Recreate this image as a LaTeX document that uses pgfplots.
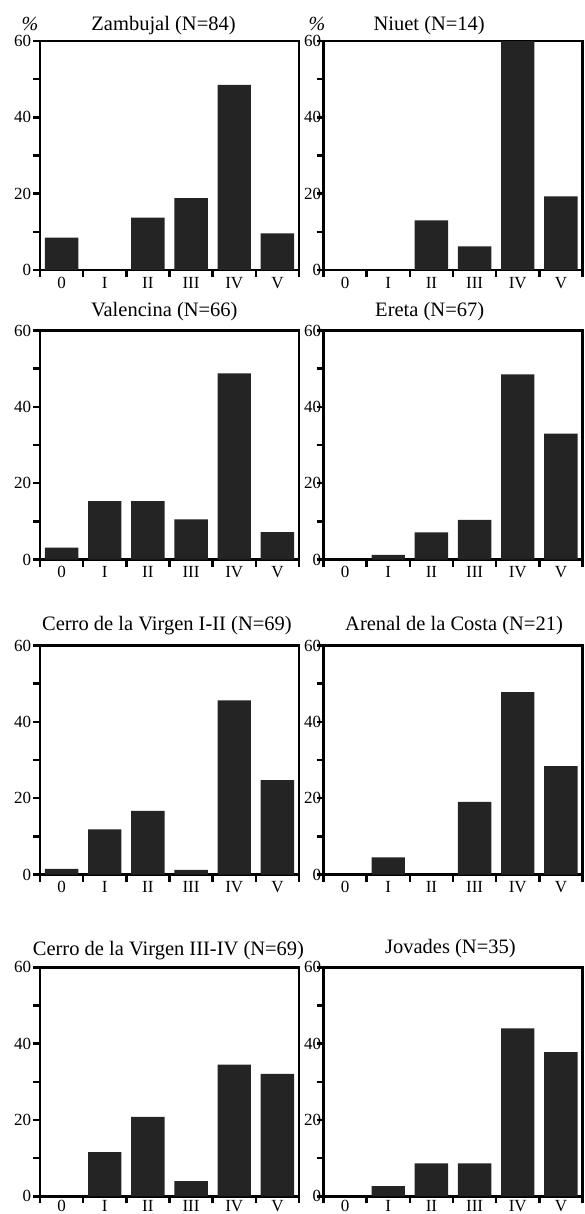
\documentclass[border=0pt]{standalone}
\usepackage{fontspec}
\setmainfont{Liberation Serif}
\usepackage{pgfplots}
\pgfplotsset{compat=1.18}
\definecolor{barc}{RGB}{36,36,36}
\pgfplotsset{
 every axis title shift=0pt,
 panel/.style={
  scale only axis, width=129.5pt, height=114.5pt,
  xmin=-0.5, xmax=5.5, ymin=0, ymax=60,
  ybar, bar width=0.775, bar shift=0pt,
  clip=false,
  axis line style={line width=1.2pt},
  xtick={-0.5,0.5,...,5.5}, xticklabels={},
  extra x ticks={0,1,2,3,4,5},
  extra x tick labels={0,I,II,III,IV,V},
  extra x tick style={major tick length=0pt},
  ytick={0,20,40,60}, minor ytick={10,30,50},
  tick align=outside, tick pos=left,
  major tick length=3.5pt, minor tick length=3.5pt,
  tick style={line width=1.2pt, black},
  ticklabel style={font=\fontsize{8.5}{10}\selectfont},
  yticklabel style={inner xsep=0.7pt},
  /pgf/number format/assume math mode=true,
  title style={font=\fontsize{10.25}{12}\selectfont, anchor=base},
 },
 rpanel/.style={panel, yticklabel style={xshift=3.2pt}},
 bars/.style={fill=barc, draw=none},
}
\begin{document}
\begin{tikzpicture}
\useasboundingbox (0,0) rectangle (292pt,-607pt);
% Row 1
\begin{axis}[panel, at={(20pt,-135pt)}, anchor=south west,
  title={Zambujal (N=84)}, title style={at={(axis description cs:0.477,1)}, yshift=5.5pt}]
\addplot[bars] coordinates {(0,8.5) (1,0) (2,13.7) (3,18.8) (4,48.5) (5,9.6)};
\node[anchor=base, font=\fontsize{10}{12}\selectfont\itshape] at (axis description cs:-0.039,1) [yshift=5.5pt] {\%};
\end{axis}
\begin{axis}[rpanel, at={(161.75pt,-135pt)}, anchor=south west,
  title={Niuet (N=14)}, title style={at={(axis description cs:0.408,1)}, yshift=5.4pt}]
\addplot[bars] coordinates {(0,0) (1,0) (2,13.0) (3,6.2) (4,60) (5,19.3)};
\node[anchor=base, font=\fontsize{10}{12}\selectfont\itshape] at (axis description cs:-0.025,1) [yshift=5.5pt] {\%};
\end{axis}
% Row 2
\begin{axis}[panel, at={(20pt,-279.75pt)}, anchor=south west,
  title={Valencina (N=66)}, title style={at={(axis description cs:0.48,1)}, yshift=7pt}]
\addplot[bars] coordinates {(0,3.1) (1,15.3) (2,15.3) (3,10.5) (4,48.8) (5,7.2)};
\end{axis}
\begin{axis}[rpanel, at={(161.75pt,-279.75pt)}, anchor=south west,
  title={Ereta (N=67)}, title style={at={(axis description cs:0.41,1)}, yshift=7pt}]
\addplot[bars] coordinates {(0,0) (1,1.2) (2,7.1) (3,10.4) (4,48.5) (5,33.0)};
\end{axis}
% Row 3
\begin{axis}[panel, at={(20pt,-437.25pt)}, anchor=south west,
  title={Cerro de la Virgen I-II (N=69)}, title style={at={(axis description cs:0.49,1)}, yshift=7.3pt}]
\addplot[bars] coordinates {(0,1.5) (1,11.8) (2,16.7) (3,1.2) (4,45.6) (5,24.7)};
\end{axis}
\begin{axis}[rpanel, at={(161.75pt,-437.25pt)}, anchor=south west,
  title={Arenal de la Costa (N=21)}, title style={at={(axis description cs:0.504,1)}, yshift=7.3pt}]
\addplot[bars] coordinates {(0,0) (1,4.5) (2,0) (3,19.0) (4,47.8) (5,28.4)};
\end{axis}
% Row 4
\begin{axis}[panel, at={(20pt,-598.15pt)}, anchor=south west,
  xticklabel style={yshift=1.5pt},
  title={Cerro de la Virgen III-IV (N=69)}, title style={at={(axis description cs:0.496,1)}, yshift=5.75pt}]
\addplot[bars] coordinates {(0,0) (1,11.6) (2,20.8) (3,4.0) (4,34.5) (5,32.1)};
\end{axis}
\begin{axis}[rpanel, at={(161.75pt,-598.15pt)}, anchor=south west,
  xticklabel style={yshift=1.5pt},
  title={Jovades (N=35)}, title style={at={(axis description cs:0.49,1)}, yshift=7pt}]
\addplot[bars] coordinates {(0,0) (1,2.7) (2,8.6) (3,8.6) (4,44.0) (5,37.8)};
\end{axis}
\end{tikzpicture}
\end{document}
